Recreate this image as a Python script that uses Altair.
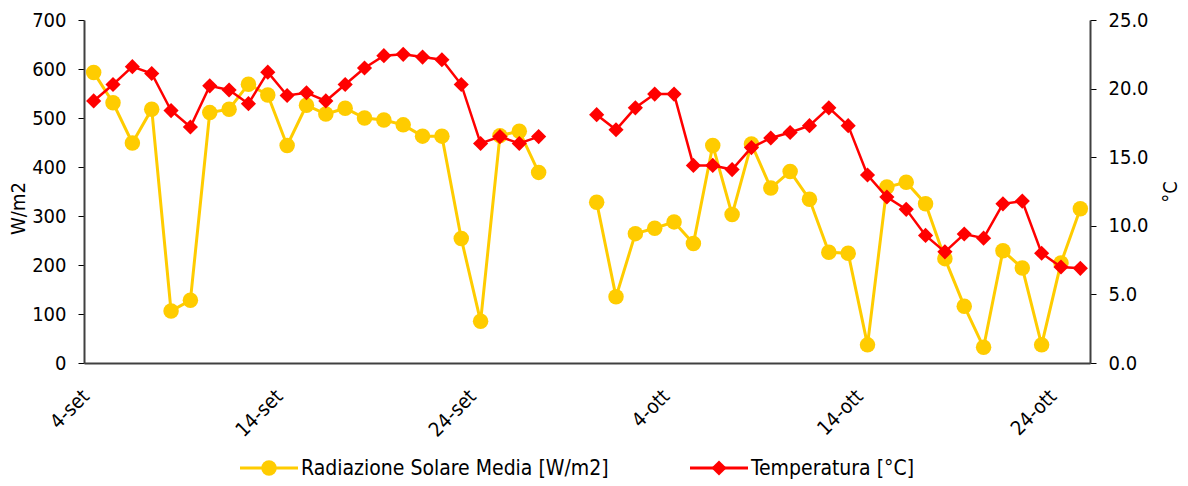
import altair as alt
import pandas as pd

# Giorni di misura (settembre e ottobre); 28 e 29 settembre mancano
date_set = [f"2023-09-{g:02d}" for g in list(range(4, 28)) + [30]]
date_ott = [f"2023-10-{g:02d}" for g in range(1, 26)]
date = date_set + date_ott

# Tratto di serie continua (la linea si interrompe dove mancano i dati)
tratto = [1] * 24 + [2] * 26

radiazione = [593, 531, 449, 518, 106, 128, 511, 518, 569, 547, 444, 526,
              508, 520, 500, 496, 486, 463, 463, 254, 85, 464, 473, 389,
              328, 135, 264, 275, 288, 244, 444, 303, 447, 357, 391, 334,
              226, 224, 37, 359, 369, 325, 213, 116, 32, 229, 194, 37,
              204, 315]

temperatura = [19.1, 20.3, 21.6, 21.1, 18.4, 17.2, 20.2, 19.9, 18.9, 21.2,
               19.5, 19.7, 19.1, 20.3, 21.5, 22.4, 22.5, 22.3, 22.1, 20.3,
               16.0, 16.5, 16.0, 16.5,
               18.1, 17.0, 18.6, 19.6, 19.6, 14.4, 14.4, 14.1, 15.7, 16.4,
               16.8, 17.3, 18.6, 17.3, 13.7, 12.1, 11.2, 9.3, 8.1, 9.4,
               9.1, 11.6, 11.8, 8.0, 7.0, 6.9]

serie = ["Radiazione Solare Media [W/m2]", "Temperatura [°C]"]
tick_rad = [0, 100, 200, 300, 400, 500, 600, 700]
tick_temp = [0, 5, 10, 15, 20, 25]
tick_giorni = [(9, 4), (9, 14), (9, 24), (10, 4), (10, 14), (10, 24)]

GIALLO = "#FFCC00"
ROSSO = "#FF0000"
FONT = "DejaVu Sans Condensed, DejaVu Sans"

df = pd.DataFrame({"data": date, "tratto": tratto,
                   "radiazione": radiazione, "temperatura": temperatura})

mesi = "['gen','feb','mar','apr','mag','giu','lug','ago','set','ott','nov','dic']"
x_enc = alt.X(
    "data:T",
    scale=alt.Scale(type="utc",
                    domain=[alt.DateTime(year=2023, month=9, date=3, hours=12, utc=True),
                            alt.DateTime(year=2023, month=10, date=25, hours=12, utc=True)]),
    axis=alt.Axis(
        title=None,
        values=[alt.DateTime(year=2023, month=m, date=d, utc=True) for m, d in tick_giorni],
        labelExpr="utcdate(datum.value) + '-' + " + mesi + "[utcmonth(datum.value)]",
        labelAngle=-45, labelAlign="right", labelBaseline="middle",
        labelPadding=30, labelOffset=-8, ticks=False, grid=False,
        labelOverlap=False, labelFlush=False,
        domainColor="#404040", domainWidth=2,
    ),
)

asse_y = dict(grid=False, tickSize=6, tickColor="#000000", tickWidth=1,
              labelPadding=12, domainColor="#404040", domainWidth=2)

y_rad = alt.Y("radiazione:Q",
              scale=alt.Scale(domain=[0, 700], nice=False, zero=True),
              axis=alt.Axis(title="W/m2", orient="left", values=tick_rad,
                            format="d", titlePadding=3, titleY=188, **asse_y))
y_temp = alt.Y("temperatura:Q",
               scale=alt.Scale(domain=[0, 25], nice=False, zero=True),
               axis=alt.Axis(title="°C", orient="right", values=tick_temp,
                             format=".1f", titleAngle=270, titlePadding=32,
                             **asse_y))

base = alt.Chart(df)

strato_rad = alt.layer(
    base.mark_line(color=GIALLO, strokeWidth=3).encode(x=x_enc, y=y_rad, detail="tratto:N"),
    base.mark_point(shape="circle", filled=True, size=240, color=GIALLO, opacity=1)
        .encode(x=x_enc, y=y_rad),
)

strato_temp = alt.layer(
    base.mark_line(color=ROSSO, strokeWidth=2.5).encode(x=x_enc, y=y_temp, detail="tratto:N"),
    base.mark_point(shape="diamond", filled=True, size=230, color=ROSSO, opacity=1)
        .encode(x=x_enc, y=y_temp),
)

# Legenda in basso: linea con simbolo e etichetta per ciascuna serie
leg_y = 448


def voce_legenda(nome, colore, forma, x0, dim):
    d = alt.Chart(pd.DataFrame({"nome": [nome]}))
    linea = d.mark_rule(color=colore, strokeWidth=3).encode(
        x=alt.value(x0), x2=alt.value(x0 + 58), y=alt.value(leg_y))
    simbolo = d.mark_point(shape=forma, filled=True, size=dim, color=colore, opacity=1).encode(
        x=alt.value(x0 + 29), y=alt.value(leg_y))
    testo = d.mark_text(align="left", baseline="middle", fontSize=21, font=FONT,
                        color="#000000").encode(
        x=alt.value(x0 + 61), y=alt.value(leg_y + 1), text="nome:N")
    return [linea, simbolo, testo]


legenda = (voce_legenda(serie[0], GIALLO, "circle", 156, 240)
           + voce_legenda(serie[1], ROSSO, "diamond", 606, 230))

chart = alt.layer(strato_rad, strato_temp, *legenda).resolve_scale(
    y="independent"
).properties(
    width=1006, height=343,
    autosize=alt.AutoSizeParams(type="none"),
    padding={"left": 84, "top": 20, "right": 98, "bottom": 123},
    background="#FFFFFF",
).configure_view(
    strokeWidth=0
).configure_axis(
    labelFont=FONT, titleFont=FONT, labelFontSize=20, titleFontSize=20,
    titleFontWeight="normal", labelColor="#000000", titleColor="#000000",
)

chart.save("out.html", embed_options={"renderer": "svg", "actions": False})
